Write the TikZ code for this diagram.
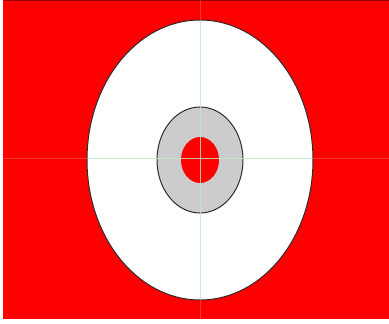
\documentclass[tikz,border=0pt]{standalone}
\definecolor{bgred}{RGB}{255,0,0}
\definecolor{ringgray}{RGB}{204,204,206}
\definecolor{axisgreen}{RGB}{190,235,200}
\definecolor{edgegray}{RGB}{50,40,40}
\tikzset{outline/.style={draw=edgegray,line width=1pt},
axis/.style={draw=axisgreen,line width=0.8pt}}
\begin{document}
\begin{tikzpicture}[x=1pt,y=-1pt]
\useasboundingbox (0,0) rectangle (389,324);
\fill[white] (0,0) rectangle (389,324);
\fill[bgred] (3,0) rectangle (389,319);
\draw[draw=red!60!black,line width=0.8pt] (3,0.4) -- (389,0.4);
\filldraw[fill=white,outline] (200,160) ellipse [x radius=113,y radius=140];
\filldraw[fill=ringgray,outline] (200,160) ellipse [x radius=43,y radius=53];
\fill[bgred] (200,160) ellipse [x radius=19,y radius=23];
\draw[axis,opacity=0.25] (200,0) -- (200,319);
\draw[axis,opacity=0.25] (3,158) -- (389,158);
\begin{scope}
\clip (200,160) ellipse [x radius=112.5,y radius=139.5];
\draw[axis,opacity=0.75] (200,0) -- (200,319);
\draw[axis,opacity=0.75] (3,158) -- (389,158);
\end{scope}
\end{tikzpicture}
\end{document}
